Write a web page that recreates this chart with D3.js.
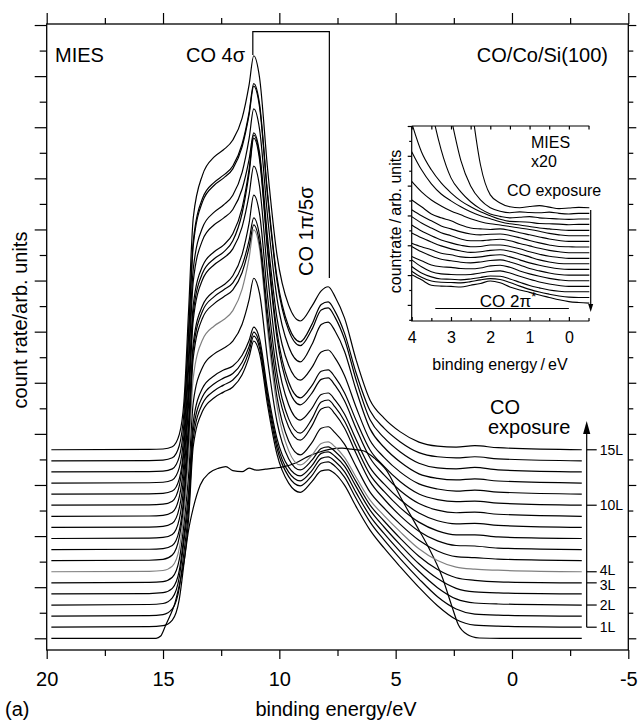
<!DOCTYPE html>
<html>
<head>
<meta charset="utf-8">
<script src="https://cdn.jsdelivr.net/npm/d3@7"></script>
<style>
  body { margin: 0; background: #fff; }
  svg { display: block; }
</style>
</head>
<body>
<svg id="chart" width="638" height="722"></svg>
<script>
// MIES spectra of CO on Co/Si(100), waterfall of exposures + x20 inset near E_F

// ── Main panel data (binding energy in eV, count rate in arb. units above each curve's baseline) ──
const ENERGY = [19.8, 15.6, 15.0, 14.6, 14.3, 14.1, 13.9, 13.7, 13.3, 12.8, 12.4, 12.0, 11.6, 11.3, 11.1, 10.85,
                10.5, 10.1, 9.6, 9.1, 8.6, 8.2, 7.9, 7.6, 7.2, 6.7, 6.1, 5.5, 4.8, 4.0, 3.2, 2.4, 1.6, 0.6, -3.0];

const CLEAN_E = [19.8, 15.3, 15.1, 14.9, 14.7, 14.5, 14.3, 14.1, 13.9, 13.7, 13.4, 13.0, 12.6, 12.3, 12.0, 11.6, 11.3,
                 11.0, 10.6, 10.2, 9.8, 9.3, 8.8, 8.3, 7.8, 7.3, 6.9, 6.4, 5.9, 5.4, 4.8, 4.0, 3.6, 3.0, 2.6, 2.3,
                 1.9, 1.7, 1.4, 0.5, -3.0];
const CLEAN_0L = [0, 0, 0.045, 0.24, 0.44, 0.67, 1.04, 1.49, 2.12, 2.55, 3.00, 3.24, 3.33, 3.36, 3.28, 3.26, 3.33,
                  3.29, 3.31, 3.33, 3.36, 3.43, 3.55, 3.64, 3.70, 3.72, 3.70, 3.67, 3.52, 3.29, 2.77, 2.12, 1.79,
                  1.20, 0.65, 0.26, 0.07, 0.03, 0.006, 0, 0];

const CO_1L   = [0, 0.01, 0.03, 0.14, 0.55, 1.25, 2.12, 3.54, 4.23, 4.49, 4.60, 4.70, 4.94, 5.29, 5.60, 5.36, 4.33, 3.38, 2.82, 2.64, 2.85, 3.06, 3.08, 3.00, 2.78, 2.36, 1.90, 1.55, 1.18, 0.78, 0.42, 0.15, 0.04, 0.02, 0];
const CO_1_5L = [0, 0.01, 0.03, 0.14, 0.55, 1.25, 2.08, 3.48, 4.16, 4.41, 4.52, 4.62, 4.85, 5.18, 5.48, 5.25, 4.22, 3.28, 2.73, 2.55, 2.75, 2.99, 3.02, 2.93, 2.72, 2.30, 1.84, 1.49, 1.12, 0.73, 0.38, 0.14, 0.04, 0.02, 0];
const CO_2L   = [0, 0.01, 0.03, 0.14, 0.55, 1.25, 2.04, 3.42, 4.08, 4.33, 4.44, 4.53, 4.75, 5.06, 5.34, 5.11, 4.09, 3.16, 2.60, 2.43, 2.63, 2.87, 2.90, 2.81, 2.61, 2.20, 1.74, 1.40, 1.04, 0.66, 0.34, 0.12, 0.04, 0.02, 0];
const CO_2_5L = [0, 0.008, 0.025, 0.11, 0.46, 1.15, 2.01, 3.37, 4.03, 4.27, 4.38, 4.46, 4.67, 4.96, 5.22, 4.99, 3.97, 3.04, 2.48, 2.31, 2.51, 2.75, 2.78, 2.69, 2.50, 2.10, 1.64, 1.31, 0.96, 0.59, 0.30, 0.11, 0.04, 0.02, 0];
const CO_3L   = [0, 0.008, 0.025, 0.11, 0.46, 1.15, 2.11, 3.53, 4.22, 4.48, 4.59, 4.73, 5.06, 5.54, 5.96, 5.66, 4.35, 3.15, 2.43, 2.21, 2.40, 2.63, 2.66, 2.57, 2.37, 1.98, 1.52, 1.21, 0.87, 0.52, 0.26, 0.10, 0.05, 0.02, 0];
const CO_4L   = [0, 0.008, 0.025, 0.11, 0.46, 1.15, 2.27, 3.80, 4.54, 4.81, 4.93, 5.11, 5.53, 6.14, 6.69, 6.32, 4.71, 3.24, 2.37, 2.09, 2.28, 2.51, 2.54, 2.44, 2.24, 1.85, 1.40, 1.10, 0.78, 0.45, 0.22, 0.09, 0.05, 0.03, 0];
const CO_5L   = [0, 0.008, 0.025, 0.11, 0.46, 1.15, 2.37, 3.97, 4.75, 5.03, 5.16, 5.30, 5.64, 6.13, 6.57, 6.21, 4.64, 3.20, 2.34, 2.07, 2.31, 2.59, 2.62, 2.50, 2.28, 1.84, 1.34, 1.03, 0.71, 0.40, 0.19, 0.08, 0.06, 0.03, 0];
const CO_6L   = [0, 0.006, 0.02, 0.08, 0.38, 1.05, 2.34, 3.91, 4.67, 4.95, 5.08, 5.22, 5.56, 6.05, 6.49, 6.14, 4.62, 3.23, 2.40, 2.14, 2.42, 2.75, 2.79, 2.65, 2.38, 1.88, 1.33, 0.99, 0.66, 0.36, 0.17, 0.08, 0.07, 0.03, 0];
const CO_7L   = [0, 0.006, 0.02, 0.08, 0.38, 1.05, 2.28, 3.82, 4.56, 4.84, 4.96, 5.14, 5.56, 6.17, 6.72, 6.35, 4.72, 3.23, 2.34, 2.06, 2.34, 2.67, 2.71, 2.57, 2.30, 1.80, 1.25, 0.92, 0.60, 0.32, 0.15, 0.07, 0.07, 0.03, 0];
const CO_8L   = [0, 0.006, 0.02, 0.08, 0.38, 1.05, 2.42, 4.06, 4.85, 5.14, 5.27, 5.45, 5.88, 6.51, 7.07, 6.67, 4.93, 3.34, 2.40, 2.10, 2.33, 2.60, 2.63, 2.49, 2.22, 1.72, 1.17, 0.85, 0.54, 0.28, 0.13, 0.07, 0.08, 0.04, 0];
const CO_9L   = [0, 0.006, 0.02, 0.08, 0.38, 1.05, 2.38, 3.98, 4.76, 5.04, 5.17, 5.39, 5.93, 6.71, 7.40, 6.98, 5.16, 3.49, 2.49, 2.18, 2.41, 2.68, 2.71, 2.56, 2.26, 1.72, 1.14, 0.81, 0.50, 0.25, 0.12, 0.07, 0.08, 0.04, 0];
const CO_10L  = [0, 0.006, 0.02, 0.08, 0.38, 1.05, 2.34, 3.92, 4.68, 4.96, 5.09, 5.31, 5.82, 6.57, 7.24, 6.83, 5.03, 3.39, 2.41, 2.10, 2.34, 2.62, 2.65, 2.50, 2.20, 1.66, 1.08, 0.76, 0.46, 0.22, 0.11, 0.07, 0.08, 0.04, 0];
const CO_11L  = [0, 0.006, 0.015, 0.06, 0.3, 0.95, 2.48, 4.16, 4.97, 5.27, 5.40, 5.57, 5.97, 6.55, 7.07, 6.68, 4.99, 3.44, 2.52, 2.23, 2.48, 2.78, 2.82, 2.66, 2.32, 1.70, 1.05, 0.72, 0.43, 0.20, 0.10, 0.06, 0.08, 0.04, 0];
const CO_12L  = [0, 0.006, 0.015, 0.06, 0.3, 0.95, 2.50, 4.19, 5.00, 5.30, 5.44, 5.63, 6.08, 6.74, 7.32, 6.92, 5.19, 3.61, 2.67, 2.37, 2.71, 3.10, 3.15, 2.97, 2.58, 1.82, 1.06, 0.70, 0.41, 0.18, 0.09, 0.06, 0.08, 0.04, 0];
const CO_13L  = [0, 0.006, 0.015, 0.06, 0.3, 0.95, 2.65, 4.43, 5.29, 5.61, 5.75, 5.93, 6.36, 6.99, 7.55, 7.14, 5.37, 3.74, 2.77, 2.47, 2.79, 3.17, 3.21, 3.02, 2.60, 1.80, 1.02, 0.67, 0.39, 0.17, 0.08, 0.06, 0.09, 0.04, 0];
const CO_14L  = [0, 0.006, 0.015, 0.06, 0.3, 0.95, 2.57, 4.30, 5.14, 5.45, 5.59, 5.77, 6.20, 6.82, 7.38, 6.98, 5.21, 3.59, 2.63, 2.33, 2.67, 3.06, 3.11, 2.92, 2.50, 1.72, 0.98, 0.64, 0.37, 0.16, 0.08, 0.06, 0.08, 0.04, 0];
const CO_15L  = [0, 0.006, 0.015, 0.06, 0.3, 0.95, 2.73, 4.54, 5.38, 5.73, 5.87, 6.06, 6.49, 7.14, 7.71, 7.28, 5.47, 3.81, 2.83, 2.52, 2.81, 3.11, 3.19, 2.99, 2.58, 1.76, 0.97, 0.62, 0.35, 0.15, 0.07, 0.05, 0.08, 0.04, 0];

const EXPOSURES = ['0L', '1L', '1.5L', '2L', '2.5L', '3L', '4L', '5L', '6L', '7L', '8L', '9L', '10L', '11L', '12L', '13L', '14L', '15L'];
const LABELLED  = ['1L', '2L', '3L', '4L', '10L', '15L'];

const X_MAJOR = [20, 15, 10, 5, 0, -5];
const X_MINOR = [17.5, 12.5, 7.5, 2.5, -2.5];

// ── Inset data (x20, absolute count rate) ──
const INSET_E = [4.0, 3.75, 3.5, 3.25, 3.0, 2.75, 2.5, 2.25, 2.0, 1.75, 1.5, 1.25, 1.0, 0.75, 0.5, 0.25, 0.0, -0.25, -0.52];
const INSET_0  = [20, 18, 16, 14, 12, 9.5, 6.9, 4.70, 3.69, 3.42, 3.29, 3.26, 3.30, 3.33, 3.28, 3.23, 3.25, 3.27, 3.26];
const INSET_1  = [16, 13, 10.5, 8, 6.3, 4.85, 3.99, 3.52, 3.26, 3.14, 3.09, 3.12, 3.10, 3.09, 3.11, 3.07, 3.05, 3.07, 3.07];
const INSET_2  = [10, 8.5, 6.6, 5.20, 4.26, 3.79, 3.46, 3.22, 3.05, 2.97, 2.92, 2.94, 2.96, 2.92, 2.90, 2.88, 2.87, 2.88, 2.88];
const INSET_3  = [6.1, 5.13, 4.53, 4.09, 3.76, 3.49, 3.29, 3.12, 2.99, 2.87, 2.80, 2.79, 2.77, 2.73, 2.72, 2.71, 2.69, 2.70, 2.70];
const INSET_4  = [5.14, 4.53, 4.06, 3.72, 3.49, 3.29, 3.12, 2.99, 2.89, 2.79, 2.72, 2.68, 2.63, 2.58, 2.55, 2.52, 2.50, 2.50, 2.50];
const INSET_5  = [4.14, 3.79, 3.52, 3.32, 3.15, 3.02, 2.89, 2.79, 2.72, 2.68, 2.63, 2.58, 2.53, 2.47, 2.40, 2.35, 2.32, 2.32, 2.32];
const INSET_6  = [3.52, 3.29, 3.05, 2.92, 2.82, 2.68, 2.58, 2.55, 2.53, 2.55, 2.50, 2.42, 2.35, 2.28, 2.21, 2.16, 2.13, 2.13, 2.13];
const INSET_7  = [3.19, 2.99, 2.82, 2.65, 2.55, 2.45, 2.38, 2.35, 2.37, 2.38, 2.33, 2.25, 2.16, 2.08, 2.01, 1.96, 1.95, 1.94, 1.94];
const INSET_8  = [2.96, 2.75, 2.58, 2.42, 2.32, 2.21, 2.15, 2.15, 2.18, 2.20, 2.15, 2.06, 1.98, 1.90, 1.83, 1.78, 1.75, 1.75, 1.75];
const INSET_9  = [2.68, 2.48, 2.32, 2.18, 2.08, 2.00, 1.95, 1.96, 2.01, 2.01, 1.96, 1.88, 1.78, 1.70, 1.63, 1.59, 1.56, 1.56, 1.56];
const INSET_10 = [2.41, 2.25, 2.11, 1.98, 1.88, 1.81, 1.76, 1.78, 1.83, 1.85, 1.80, 1.71, 1.61, 1.51, 1.44, 1.39, 1.38, 1.38, 1.38];
const INSET_11 = [2.07, 1.95, 1.85, 1.73, 1.68, 1.61, 1.59, 1.61, 1.66, 1.68, 1.61, 1.51, 1.41, 1.33, 1.26, 1.21, 1.19, 1.19, 1.19];
const INSET_12 = [1.96, 1.78, 1.64, 1.53, 1.48, 1.43, 1.41, 1.44, 1.49, 1.51, 1.44, 1.34, 1.22, 1.14, 1.07, 1.02, 1.00, 1.00, 1.00];
const INSET_13 = [1.62, 1.48, 1.34, 1.28, 1.26, 1.22, 1.21, 1.24, 1.31, 1.33, 1.26, 1.14, 1.04, 0.96, 0.89, 0.84, 0.81, 0.81, 0.81];
const INSET_14 = [1.51, 1.28, 1.11, 1.04, 1.02, 1.01, 1.02, 1.07, 1.12, 1.14, 1.07, 0.96, 0.86, 0.77, 0.70, 0.65, 0.62, 0.62, 0.62];
const INSET_15 = [1.29, 1.07, 0.94, 0.87, 0.86, 0.84, 0.87, 0.92, 0.97, 0.96, 0.87, 0.76, 0.65, 0.57, 0.50, 0.46, 0.44, 0.44, 0.44];
const INSET_16 = [1.13, 0.93, 0.80, 0.76, 0.75, 0.74, 0.78, 0.84, 0.88, 0.85, 0.75, 0.63, 0.52, 0.43, 0.36, 0.30, 0.26, 0.25, 0.25];
const INSET_17 = [1.01, 0.84, 0.66, 0.63, 0.62, 0.60, 0.66, 0.72, 0.80, 0.74, 0.60, 0.50, 0.42, 0.33, 0.25, 0.17, 0.11, 0.08, 0.06];
const INSET_TICKS = [4, 3, 2, 1, 0];

// ── Setup ──────────────────────────────────────────────────────────────────────
const FONT = '"Liberation Sans", Arial, Helvetica, sans-serif';
const STEP = 0.217;            // vertical offset between successive spectra
const P = { l: 46.7, r: 628.3, t: 24, b: 650 };

const svg = d3.select('#chart').attr('font-family', FONT);
const x = d3.scaleLinear().domain([20, -5]).range([P.l, P.r]);
const y = d3.scaleLinear().domain([-0.229, 12.02]).range([P.b, P.t]);

function styleAxis(g, fs) {
    g.select('.domain').remove();
    g.attr('font-family', FONT).attr('font-size', fs);
    g.selectAll('line').attr('stroke', '#000').attr('stroke-width', 1.2);
    g.selectAll('text').attr('fill', '#000');
}

// ── Axes (ticks outward) ────────────────────────────────────────────────────────
svg.append('g').attr('transform', `translate(0,${P.b})`)
    .call(d3.axisBottom(x).tickValues(X_MAJOR).tickSize(9).tickPadding(13).tickFormat(d => String(d)))
    .call(g => styleAxis(g, 20));
svg.append('g').attr('transform', `translate(0,${P.b})`)
    .call(d3.axisBottom(x).tickValues(X_MINOR).tickSize(6).tickFormat(''))
    .call(g => styleAxis(g, 20));
svg.append('g').attr('transform', `translate(0,${P.t})`)
    .call(d3.axisTop(x).tickValues(X_MAJOR).tickSize(11).tickFormat(''))
    .call(g => styleAxis(g, 20));
svg.append('g').attr('transform', `translate(0,${P.t})`)
    .call(d3.axisTop(x).tickValues(X_MINOR).tickSize(6).tickFormat(''))
    .call(g => styleAxis(g, 20));

const yMajor = d3.range(0, 13, 1);
const yMinor = d3.range(0.5, 12, 1);
svg.append('g').attr('transform', `translate(${P.l},0)`)
    .call(d3.axisLeft(y).tickValues(yMajor).tickSize(12).tickFormat(''))
    .call(g => styleAxis(g, 20));
svg.append('g').attr('transform', `translate(${P.l},0)`)
    .call(d3.axisLeft(y).tickValues(yMinor).tickSize(7).tickFormat(''))
    .call(g => styleAxis(g, 20));
svg.append('g').attr('transform', `translate(${P.r},0)`)
    .call(d3.axisRight(y).tickValues(yMajor).tickSize(8).tickFormat(''))
    .call(g => styleAxis(g, 20));
svg.append('g').attr('transform', `translate(${P.r},0)`)
    .call(d3.axisRight(y).tickValues(yMinor).tickSize(5).tickFormat(''))
    .call(g => styleAxis(g, 20));

svg.append('rect')
    .attr('x', P.l).attr('y', P.t).attr('width', P.r - P.l).attr('height', P.b - P.t)
    .attr('fill', 'none').attr('stroke', '#000').attr('stroke-width', 1.3);

// ── Spectra ─────────────────────────────────────────────────────────────────────
const CO_SERIES = [CO_1L, CO_1_5L, CO_2L, CO_2_5L, CO_3L, CO_4L, CO_5L, CO_6L, CO_7L, CO_8L,
                   CO_9L, CO_10L, CO_11L, CO_12L, CO_13L, CO_14L, CO_15L];
const spectra = [{ label: EXPOSURES[0], e: CLEAN_E, v: CLEAN_0L }]
    .concat(CO_SERIES.map((v, k) => ({ label: EXPOSURES[k + 1], e: ENERGY, v })));

svg.append('clipPath').attr('id', 'main-clip')
    .append('rect').attr('x', P.l).attr('y', P.t).attr('width', P.r - P.l).attr('height', P.b - P.t);

const specG = svg.append('g').attr('clip-path', 'url(#main-clip)');
spectra.forEach((s, i) => {
    const off = i * STEP;
    const pts = s.e.map((e, k) => [e, s.v[k] + off]);
    specG.append('path')
        .attr('d', d3.line().x(d => x(d[0])).y(d => y(d[1])).curve(d3.curveMonotoneX)(pts))
        .attr('fill', 'none')
        .attr('stroke', s.label === '4L' ? '#808080' : '#000')
        .attr('stroke-width', 1.2)
        .attr('stroke-linejoin', 'round');
});

// ── Exposure scale on the right ─────────────────────────────────────────────────
const scaleX = 586.7;
const idx1 = EXPOSURES.indexOf('1L');
// small nudges so the close 4L / 3L labels don't collide
const LABEL_NUDGE = { '4L': -2, '3L': 2 };
svg.append('line')
    .attr('x1', scaleX).attr('x2', scaleX)
    .attr('y1', y(idx1 * STEP)).attr('y2', 430)
    .attr('stroke', '#000').attr('stroke-width', 1.2);
svg.append('path')
    .attr('d', `M${scaleX},421 L${scaleX - 3.6},434 L${scaleX + 3.6},434 Z`)
    .attr('fill', '#000');
LABELLED.forEach(lbl => {
    const yy = y(EXPOSURES.indexOf(lbl) * STEP);
    svg.append('line').attr('x1', scaleX).attr('x2', scaleX + 10).attr('y1', yy).attr('y2', yy)
        .attr('stroke', '#000').attr('stroke-width', 1.2);
    svg.append('text').attr('x', scaleX + 13).attr('y', yy + (LABEL_NUDGE[lbl] || 0)).attr('dy', '0.36em')
        .attr('font-size', 14).text(lbl);
});
svg.append('text').attr('x', 490).attr('y', 414).attr('font-size', 20).text('CO');
svg.append('text').attr('x', 488).attr('y', 434).attr('font-size', 20).text('exposure');

// ── Annotations ─────────────────────────────────────────────────────────────────
svg.append('text').attr('x', 55).attr('y', 62).attr('font-size', 20).text('MIES');
svg.append('text').attr('x', 245).attr('y', 62).attr('font-size', 20).attr('text-anchor', 'end').text('CO 4σ');
svg.append('text').attr('x', 608).attr('y', 62).attr('font-size', 20).attr('text-anchor', 'end').text('CO/Co/Si(100)');
svg.append('path')
    .attr('d', `M${x(11.14)},55 V31.7 H${x(7.85)} V278`)
    .attr('fill', 'none').attr('stroke', '#000').attr('stroke-width', 1.2);
svg.append('text')
    .attr('transform', 'translate(313,276) rotate(-90)')
    .attr('font-size', 20).text('CO 1π/5σ');

// axis titles
svg.append('text').attr('x', 336).attr('y', 716).attr('text-anchor', 'middle')
    .attr('font-size', 20).text('binding energy/eV');
svg.append('text').attr('transform', 'translate(26.5,320) rotate(-90)').attr('text-anchor', 'middle')
    .attr('font-size', 20).text('count rate/arb. units');
svg.append('text').attr('x', 5).attr('y', 716).attr('font-size', 20).text('(a)');

// ── Inset ───────────────────────────────────────────────────────────────────────
const I = { l: 411.7, r: 589.3, t: 126, b: 321 };
const xi = d3.scaleLinear().domain([4, -0.52]).range([I.l, I.r]);
const yi = d3.scaleLinear().domain([-0.54, 6.0]).range([I.b, I.t]);

svg.append('rect').attr('x', I.l).attr('y', I.t).attr('width', I.r - I.l).attr('height', I.b - I.t)
    .attr('fill', '#fff');

const xiMinor = d3.range(3.5, -0.6, -1);
svg.append('g').attr('transform', `translate(0,${I.b})`)
    .call(d3.axisBottom(xi).tickValues(INSET_TICKS).tickSizeInner(-4).tickSizeOuter(0).tickPadding(10.5)
        .tickFormat(d => String(d)))
    .call(g => styleAxis(g, 16));
svg.append('g').attr('transform', `translate(0,${I.b})`)
    .call(d3.axisBottom(xi).tickValues(xiMinor).tickSize(-3).tickFormat(''))
    .call(g => styleAxis(g, 16));
svg.append('g').attr('transform', `translate(0,${I.t})`)
    .call(d3.axisTop(xi).tickValues(INSET_TICKS.concat(xiMinor)).tickSize(-3.5).tickFormat(''))
    .call(g => styleAxis(g, 16));
svg.append('g').attr('transform', `translate(${I.l},0)`)
    .call(d3.axisLeft(yi).tickValues(d3.range(0, 6.5, 1)).tickSize(4).tickFormat(''))
    .call(g => styleAxis(g, 16));
svg.append('g').attr('transform', `translate(${I.l},0)`)
    .call(d3.axisLeft(yi).tickValues(d3.range(-0.5, 6, 1)).tickSize(2.5).tickFormat(''))
    .call(g => styleAxis(g, 16));

svg.append('path')
    .attr('d', `M${I.l},${I.t} V${I.b} H${I.r} M${I.l},${I.t} H${I.r}`)
    .attr('fill', 'none').attr('stroke', '#000').attr('stroke-width', 1.2);

svg.append('clipPath').attr('id', 'inset-clip')
    .append('rect').attr('x', I.l).attr('y', I.t).attr('width', I.r - I.l + 1).attr('height', I.b - I.t);

const INSET_SERIES = [INSET_0, INSET_1, INSET_2, INSET_3, INSET_4, INSET_5, INSET_6, INSET_7, INSET_8,
                      INSET_9, INSET_10, INSET_11, INSET_12, INSET_13, INSET_14, INSET_15, INSET_16, INSET_17];
const insetG = svg.append('g').attr('clip-path', 'url(#inset-clip)');
INSET_SERIES.forEach(vals => {
    const pts = INSET_E.map((e, k) => [e, vals[k]]);
    insetG.append('path')
        .attr('d', d3.line().x(d => xi(d[0])).y(d => yi(d[1])).curve(d3.curveMonotoneX)(pts))
        .attr('fill', 'none').attr('stroke', '#000').attr('stroke-width', 1.1)
        .attr('stroke-linejoin', 'round');
});

// inset arrow (exposure increases downward)
svg.append('line').attr('x1', 590.7).attr('x2', 590.7).attr('y1', 210).attr('y2', 306)
    .attr('stroke', '#000').attr('stroke-width', 1.2);
svg.append('path').attr('d', 'M590.7,312 L588.2,304 L593.2,304 Z').attr('fill', '#000');

svg.append('text').attr('x', 531).attr('y', 148).attr('font-size', 16).text('MIES');
svg.append('text').attr('x', 531).attr('y', 167).attr('font-size', 16).text('x20');
svg.append('text').attr('x', 507).attr('y', 196).attr('font-size', 16).text('CO exposure');

const pi = svg.append('text').attr('x', 508).attr('y', 306.5).attr('text-anchor', 'middle').attr('font-size', 17);
pi.append('tspan').text('CO 2π');
pi.append('tspan').attr('font-size', 13).attr('dy', -6).text('*');
svg.append('line').attr('x1', xi(3.4)).attr('x2', xi(0)).attr('y1', 308.5).attr('y2', 308.5)
    .attr('stroke', '#000').attr('stroke-width', 1.2);

svg.append('text').attr('x', 500).attr('y', 370).attr('text-anchor', 'middle').attr('font-size', 16)
    .text('binding energy\u2009/\u2009eV');
svg.append('text').attr('transform', 'translate(400.5,221.5) rotate(-90)').attr('text-anchor', 'middle')
    .attr('font-size', 16).text('countrate\u2009/\u2009arb. units');
</script>
</body>
</html>
